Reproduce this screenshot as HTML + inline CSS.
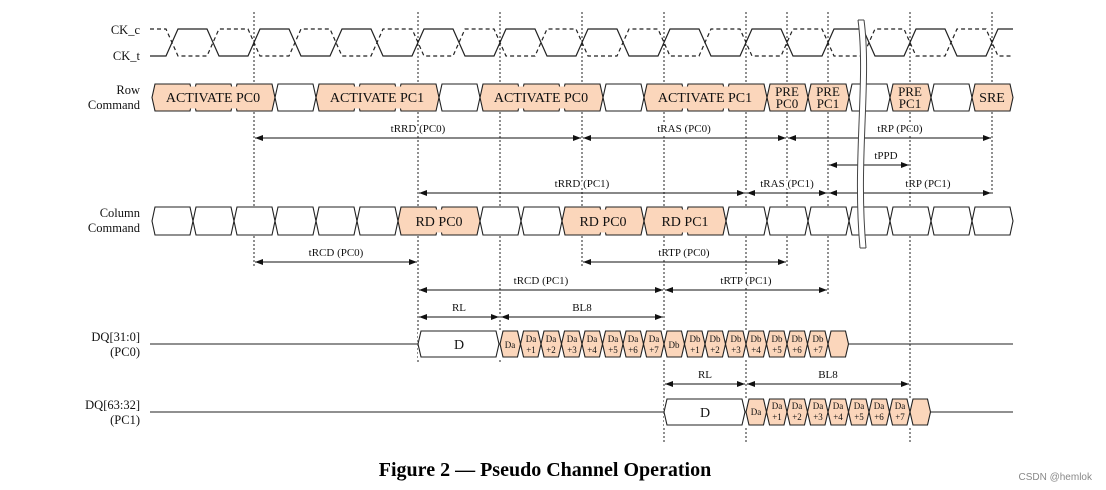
<!DOCTYPE html>
<html><head><meta charset="utf-8"><style>
html,body{margin:0;padding:0;background:#fff;}
svg{display:block;font-family:"Liberation Serif",serif;}
.l{font-size:12.5px;fill:#111;}
.c{font-size:14px;fill:#111;text-anchor:middle;}
.p{font-size:13px;}
.a{font-size:11px;fill:#111;text-anchor:middle;stroke:#fff;stroke-width:4px;paint-order:stroke;}
.s{font-size:9px;fill:#111;text-anchor:middle;}
</style></head><body>
<svg id="s" width="1106" height="490" viewBox="0 0 1106 490" xmlns="http://www.w3.org/2000/svg">
<defs><marker id="m" markerWidth="8" markerHeight="6" refX="8" refY="3" orient="auto-start-reverse" markerUnits="userSpaceOnUse"><path d="M0,0 L8,3 L0,6 Z" fill="#111"/></marker></defs>
<g id="g"></g>
<g text-anchor="end" class="l">
<text x="140" y="34">CK_c</text>
<text x="140" y="60">CK_t</text>
<text x="140" y="94">Row</text>
<text x="140" y="109">Command</text>
<text x="140" y="217">Column</text>
<text x="140" y="232">Command</text>
<text x="140" y="341">DQ[31:0]</text>
<text x="140" y="356">(PC0)</text>
<text x="140" y="409">DQ[63:32]</text>
<text x="140" y="424">(PC1)</text>
</g>
<g class="c">
<text x="213" y="102">ACTIVATE PC0</text>
<text x="377" y="102">ACTIVATE PC1</text>
<text x="541" y="102">ACTIVATE PC0</text>
<text x="705" y="102">ACTIVATE PC1</text>
<text class="p" x="787" y="96">PRE</text><text class="p" x="787" y="108">PC0</text>
<text class="p" x="828" y="96">PRE</text><text class="p" x="828" y="108">PC1</text>
<text class="p" x="910" y="96">PRE</text><text class="p" x="910" y="108">PC1</text>
<text x="992" y="102">SRE</text>
<text x="439" y="226">RD PC0</text>
<text x="603" y="226">RD PC0</text>
<text x="685" y="226">RD PC1</text>
<text x="459" y="349">D</text>
<text x="705" y="417">D</text>
</g>
<g class="a">
<text x="418" y="132">tRRD (PC0)</text>
<text x="684" y="132">tRAS (PC0)</text>
<text x="900" y="132">tRP (PC0)</text>
<text x="886" y="159">tPPD</text>
<text x="582" y="187">tRRD (PC1)</text>
<text x="787" y="187">tRAS (PC1)</text>
<text x="928" y="187">tRP (PC1)</text>
<text x="336" y="256">tRCD (PC0)</text>
<text x="684" y="256">tRTP (PC0)</text>
<text x="541" y="284">tRCD (PC1)</text>
<text x="746" y="284">tRTP (PC1)</text>
<text x="459" y="311">RL</text>
<text x="582" y="311">BL8</text>
<text x="705" y="378">RL</text>
<text x="828" y="378">BL8</text>
</g>
<g class="s">
<text x="510" y="348">Da</text>
<text x="531" y="342">Da</text><text x="531" y="353">+1</text>
<text x="551" y="342">Da</text><text x="551" y="353">+2</text>
<text x="572" y="342">Da</text><text x="572" y="353">+3</text>
<text x="592" y="342">Da</text><text x="592" y="353">+4</text>
<text x="613" y="342">Da</text><text x="613" y="353">+5</text>
<text x="633" y="342">Da</text><text x="633" y="353">+6</text>
<text x="654" y="342">Da</text><text x="654" y="353">+7</text>
<text x="674" y="348">Db</text>
<text x="695" y="342">Db</text><text x="695" y="353">+1</text>
<text x="715" y="342">Db</text><text x="715" y="353">+2</text>
<text x="736" y="342">Db</text><text x="736" y="353">+3</text>
<text x="756" y="342">Db</text><text x="756" y="353">+4</text>
<text x="777" y="342">Db</text><text x="777" y="353">+5</text>
<text x="797" y="342">Db</text><text x="797" y="353">+6</text>
<text x="818" y="342">Db</text><text x="818" y="353">+7</text>
<text x="756" y="415">Da</text>
<text x="777" y="409">Da</text><text x="777" y="420">+1</text>
<text x="797" y="409">Da</text><text x="797" y="420">+2</text>
<text x="818" y="409">Da</text><text x="818" y="420">+3</text>
<text x="838" y="409">Da</text><text x="838" y="420">+4</text>
<text x="859" y="409">Da</text><text x="859" y="420">+5</text>
<text x="879" y="409">Da</text><text x="879" y="420">+6</text>
<text x="900" y="409">Da</text><text x="900" y="420">+7</text>
</g>
<text x="545" y="476" text-anchor="middle" style="font-size:20px;font-weight:bold;fill:#000">Figure 2 — Pseudo Channel Operation</text>
<text x="1092" y="480" text-anchor="end" style="font-family:'Liberation Sans',sans-serif;font-size:10px;fill:#888">CSDN @hemlok</text>
<g id="brk"></g>
</svg>
<script>
var g=document.getElementById('g'),NS='http://www.w3.org/2000/svg';
function el(t,a,p){var e=document.createElementNS(NS,t);for(var k in a)e.setAttribute(k,a[k]);(p||g).appendChild(e);return e;}
var PK='#fbd6bb';
[[254,12,266],[418,12,362],[500,12,362],[582,12,266],[664,12,442],[746,12,442],[787,12,266],[828,12,294],[910,12,442],[992,12,196]].forEach(function(d){el('line',{x1:d[0],y1:d[1],x2:d[0],y2:d[2],stroke:'#222','stroke-width':1,'stroke-dasharray':'2,2'});});
function clk(startLow,dash){var y=startLow?56:29,d='M150,'+y,x;for(x=172;x<1013;x+=41){d+=' L'+(x-6)+','+y;y=(y==56)?29:56;d+=' L'+(x+6)+','+y;}d+=' L1013,'+y;el('path',{d:d,fill:'none',stroke:'#222','stroke-width':1.2,'stroke-dasharray':dash?'4,3':'none'});}
clk(true,false);clk(false,true);
function hex(x0,x1,yt,yb,fill){var ym=(yt+yb)/2,p=3;el('path',{d:'M'+x0+','+ym+' L'+(x0+p)+','+yt+' L'+(x1-p)+','+yt+' L'+x1+','+ym+' L'+(x1-p)+','+yb+' L'+(x0+p)+','+yb+'Z',fill:fill||'#fff',stroke:'#222','stroke-width':1.1});}
var rowF=[0,1,2,4,5,6,8,9,10,12,13,14,15,16,18,20],colF=[6,7,10,11,12,13];
for(var i=0;i<21;i++){var x0=152+41*i;hex(x0,x0+41,84,111,rowF.indexOf(i)>=0?PK:'#fff');hex(x0,x0+41,207,235,colF.indexOf(i)>=0?PK:'#fff');}
function cover(a,b,yt,yb){el('rect',{x:a,y:yt,width:b-a,height:yb-yt,fill:PK});}
[[152,275],[316,439],[480,603],[644,767]].forEach(function(r){cover(r[0]+6,r[1]-6,86.5,108.5);});
[[398,480],[562,644],[644,726]].forEach(function(r){cover(r[0]+6,r[1]-6,209.5,232.5);});
function bus(y,xs,n){var yt=y-13,yb=y+13;el('rect',{x:xs,y:yt-1,width:82+20.5*(n+1),height:28,fill:'#fff'});hex(xs,xs+81,yt,yb,'#fff');for(var k=0;k<=n;k++){var a=xs+82+20.5*k;hex(a,a+20.5,yt,yb,PK);}}
el('line',{x1:150,y1:344,x2:1013,y2:344,stroke:'#222','stroke-width':1.1});
el('line',{x1:150,y1:412,x2:1013,y2:412,stroke:'#222','stroke-width':1.1});
bus(344,418,16);bus(412,664,8);
[[254,582,138],[582,787,138],[787,992,138],[828,910,165],[418,746,193],[746,828,193],[828,992,193],[254,418,262],[582,787,262],[418,664,290],[664,828,290],[418,500,317],[500,664,317],[664,746,384],[746,910,384]].forEach(function(a){el('line',{x1:a[0]+1,y1:a[2],x2:a[1]-1,y2:a[2],stroke:'#111','stroke-width':1,'marker-start':'url(#m)','marker-end':'url(#m)'});});
var b=document.getElementById('brk');
el('path',{d:'M864,20 C872,80 858,160 866,248 L860,248 C852,160 866,80 858,20 Z',fill:'#fff',stroke:'none'},b);
el('path',{d:'M864,20 C872,80 858,160 866,248',fill:'none',stroke:'#444','stroke-width':1},b);
el('path',{d:'M858,20 C866,80 852,160 860,248',fill:'none',stroke:'#444','stroke-width':1},b);
el('line',{x1:858,y1:20,x2:864,y2:20,stroke:'#444'},b);el('line',{x1:860,y1:248,x2:866,y2:248,stroke:'#444'},b);
</script>
</body></html>
